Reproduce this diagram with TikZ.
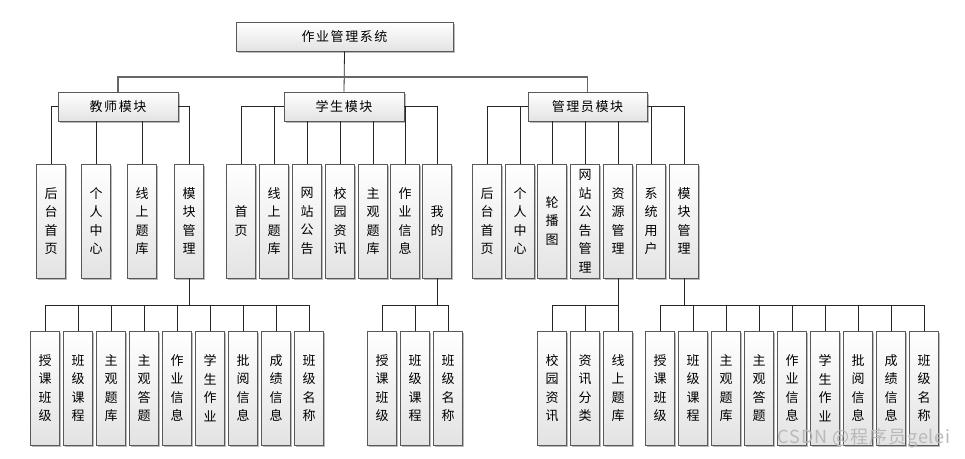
\documentclass[tikz,border=0pt]{standalone}
\usepackage{fontspec}
\newfontfamily\cjk{Noto Sans CJK SC}
\newfontfamily\cjkls[LetterSpace=12]{Noto Sans CJK SC}
\newfontfamily\cjkwm[LetterSpace=5]{Noto Sans CJK SC}
\usetikzlibrary{shadows}
\begin{document}
\begin{tikzpicture}[x=1pt,y=-1pt,
  box/.style={draw=gray!70!black, line width=0.9pt, top color=white, bottom color=gray!22,
    drop shadow={shadow xshift=1.6pt, shadow yshift=-1.6pt, fill=gray!55, opacity=1}, inner sep=0pt},
  hbox/.style={box, minimum width=120pt, minimum height=29pt, font=\cjkls\fontsize{13}{16}\selectfont},
  vbox/.style={box, minimum width=29.5pt, minimum height=114pt, align=center, font=\cjk\fontsize{13}{18.5}\selectfont},
  conn/.style={draw=black!85, line width=0.8pt},
  bus/.style={draw=black!60, line width=1.2pt}]
\fill[white] (0,0) rectangle (965,458);
\useasboundingbox (0,0) rectangle (965,458);

% level 0 and 1
\node[hbox, minimum width=217pt] (root) at (344.5,36.5) {作业管理系统};
\node[hbox] (teacher) at (118,106.5) {教师模块};
\node[hbox] (student) at (344,106.5) {学生模块};
\node[hbox, minimum width=119pt] (admin) at (587.5,106.5) {管理员模块};

% teacher children
\node[vbox] (t1) at (51,221) {后\\台\\首\\页};
\node[vbox] (t2) at (96,221) {个\\人\\中\\心};
\node[vbox] (t3) at (142,221) {线\\上\\题\\库};
\node[vbox] (t4) at (189,221) {模\\块\\管\\理};

% student children
\node[vbox] (s1) at (241,221) {首\\页};
\node[vbox] (s2) at (274,221) {线\\上\\题\\库};
\node[vbox] (s3) at (307,221) {网\\站\\公\\告};
\node[vbox] (s4) at (340,221) {校\\园\\资\\讯};
\node[vbox] (s5) at (373,221) {主\\观\\题\\库};
\node[vbox] (s6) at (405,221) {作\\业\\信\\息};
\node[vbox] (s7) at (437,221) {我\\的};

% admin children
\node[vbox] (a1) at (487,221) {后\\台\\首\\页};
\node[vbox] (a2) at (520,221) {个\\人\\中\\心};
\node[vbox] (a3) at (552,221) {轮\\播\\图};
\node[vbox] (a4) at (585,221) {网\\站\\公\\告\\管\\理};
\node[vbox] (a5) at (618,221) {资\\源\\管\\理};
\node[vbox] (a6) at (651,221) {系\\统\\用\\户};
\node[vbox] (a7) at (684,221) {模\\块\\管\\理};

% level 3: teacher module management
\node[vbox] (tm1) at (45,388) {授\\课\\班\\级};
\node[vbox] (tm2) at (78,388) {班\\级\\课\\程};
\node[vbox] (tm3) at (111,388) {主\\观\\题\\库};
\node[vbox] (tm4) at (144,388) {主\\观\\答\\题};
\node[vbox] (tm5) at (177,388) {作\\业\\信\\息};
\node[vbox] (tm6) at (210,388) {学\\生\\作\\业};
\node[vbox] (tm7) at (243,388) {批\\阅\\信\\息};
\node[vbox] (tm8) at (276,388) {成\\绩\\信\\息};
\node[vbox] (tm9) at (309,388) {班\\级\\名\\称};

% level 3: student "mine"
\node[vbox] (sm1) at (382,388) {授\\课\\班\\级};
\node[vbox] (sm2) at (415,388) {班\\级\\课\\程};
\node[vbox] (sm3) at (448,388) {班\\级\\名\\称};

% level 3: admin resource management
\node[vbox] (ar1) at (552,388) {校\\园\\资\\讯};
\node[vbox] (ar2) at (585,388) {资\\讯\\分\\类};
\node[vbox] (ar3) at (618,388) {线\\上\\题\\库};

% level 3: admin module management
\node[vbox] (am1) at (660,388) {授\\课\\班\\级};
\node[vbox] (am2) at (693,388) {班\\级\\课\\程};
\node[vbox] (am3) at (726,388) {主\\观\\题\\库};
\node[vbox] (am4) at (759,388) {主\\观\\答\\题};
\node[vbox] (am5) at (792,388) {作\\业\\信\\息};
\node[vbox] (am6) at (825,388) {学\\生\\作\\业};
\node[vbox] (am7) at (858,388) {批\\阅\\信\\息};
\node[vbox] (am8) at (891,388) {成\\绩\\信\\息};
\node[vbox] (am9) at (924,388) {班\\级\\名\\称};

% connectors level 0 -> 1
\coordinate (top) at (root.south |- 0,77);
\draw[conn] (root.south) -- (student.north);
\draw[bus] (teacher.north) |- (top) -| (admin.north);

% teacher -> children
\draw[conn] (teacher.west) -| (t1.north);
\draw[conn] (t2.north) -- (t2.north |- teacher.south);
\draw[conn] (t3.north) -- (t3.north |- teacher.south);
\draw[conn] (teacher.east) -| (t4.north);

% student -> children
\draw[conn] (student.west) -| (s1.north);
\draw[conn] (s2.north) |- (student.west);
\draw[conn] (s3.north) -- (s3.north |- student.south);
\draw[conn] (s4.north) -- (s4.north |- student.south);
\draw[conn] (s5.north) -- (s5.north |- student.south);
\draw[conn] (s6.north) |- (student.east);
\draw[conn] (student.east) -| (s7.north);

% admin -> children
\draw[conn] (admin.west) -| (a1.north);
\draw[conn] (a2.north) |- (admin.west);
\draw[conn] (a3.north) -- (a3.north |- admin.south);
\draw[conn] (a4.north) -- (a4.north |- admin.south);
\draw[conn] (a5.north) -- (a5.north |- admin.south);
\draw[conn] (a6.north) |- (admin.east);
\draw[conn] (admin.east) -| (a7.north);

% level 2 -> 3
\foreach \c in {tm1,tm2,tm3,tm4,tm5,tm6,tm7,tm8,tm9}
  \draw[conn] (t4.south) -- ++(0,27) -| (\c.north);
\foreach \c in {sm1,sm2,sm3}
  \draw[conn] (s7.south) -- ++(0,27) -| (\c.north);
\foreach \c in {ar1,ar2,ar3}
  \draw[conn] (a5.south) -- ++(0,27) -| (\c.north);
\foreach \c in {am1,am2,am3,am4,am5,am6,am7,am8,am9}
  \draw[conn] (a7.south) -- ++(0,27) -| (\c.north);

% watermark
\node[anchor=east, text=gray!55, font=\cjkwm\fontsize{18}{18}\selectfont, inner sep=0pt] (wm) at (951,438) {CSDN @程序员gelei};
\end{tikzpicture}
\end{document}
